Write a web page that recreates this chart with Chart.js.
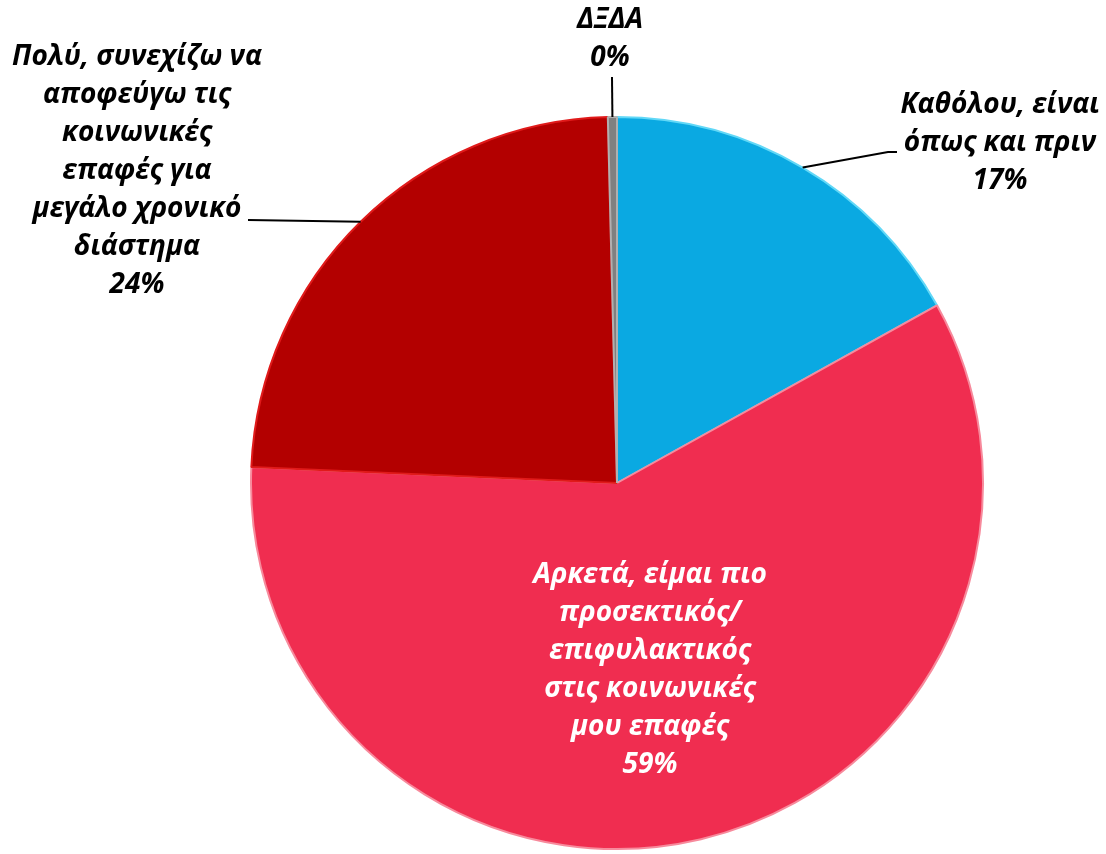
<!DOCTYPE html>
<html>
<head>
<meta charset="utf-8">
<script src="https://cdn.jsdelivr.net/npm/chart.js@4/dist/chart.umd.min.js"></script>
<style>
  html, body { margin: 0; padding: 0; background: #fff; }
  #wrap { width: 1106px; height: 854px; }
</style>
</head>
<body>
<div id="wrap"><canvas id="chart-pie" width="1106" height="854"></canvas></div>
<script>
// answers, clockwise from the top
const categories = [
    ["Καθόλου, είναι", "όπως και πριν"],
    ["Αρκετά, είμαι πιο", "προσεκτικός/", "επιφυλακτικός", "στις κοινωνικές", "μου επαφές"],
    ["Πολύ, συνεχίζω να", "αποφεύγω τις", "κοινωνικές", "επαφές για", "μεγάλο χρονικό", "διάστημα"],
    ["ΔΞΔΑ"],
];
const values = [17, 59, 24, 0.4];
const percentLabels = ["17%", "59%", "24%", "0%"];

const fills = ["#0aa9e2", "#f02d50", "#b30000", "#808080"];
const rims = ["#62d8f7", "#f78a9c", "#e01a1a", "#b0b0b0"];

const FONT = "italic bold 28px 'Open Sans'";
const LINE_H = 38;

// where each label block sits and how its leader bends (px)
const labelLayout = [
    { x: 1000, y: 105, color: "#000", leader: [[888, 152], [897, 152]] },
    { x: 650, y: 575, color: "#fff", leader: null },
    { x: 137, y: 57, color: "#000", leader: [[248, 220]] },
    { x: 610, y: 20, color: "#000", leader: [[612, 77]] },
];

const labelPlugin = {
    id: "pieLabels",
    afterDatasetsDraw(chart) {
        const ctx = chart.ctx;
        const arcs = chart.getDatasetMeta(0).data;
        ctx.save();
        ctx.font = FONT;
        ctx.textAlign = "center";
        ctx.textBaseline = "middle";
        arcs.forEach((arc, i) => {
            const lay = labelLayout[i];
            if (lay.leader) {
                const mid = (arc.startAngle + arc.endAngle) / 2;
                const sx = arc.x + Math.cos(mid) * arc.outerRadius;
                const sy = arc.y + Math.sin(mid) * arc.outerRadius;
                ctx.strokeStyle = "#000";
                ctx.lineWidth = 2;
                ctx.beginPath();
                ctx.moveTo(sx, sy);
                lay.leader.forEach(([px, py]) => ctx.lineTo(px, py));
                ctx.stroke();
            }
            const lines = categories[i].concat([percentLabels[i]]);
            ctx.fillStyle = lay.color;
            lines.forEach((t, k) => ctx.fillText(t, lay.x, lay.y + k * LINE_H));
        });
        ctx.restore();
    },
};

new Chart(document.getElementById("chart-pie").getContext("2d"), {
    type: "pie",
    data: {
        labels: categories.map((c) => c.join(" ")),
        datasets: [
            {
                data: values,
                backgroundColor: fills,
                borderColor: rims,
                borderWidth: 2,
            },
        ],
    },
    options: {
        responsive: false,
        animation: false,
        layout: { padding: { left: 250, right: 122, top: 116, bottom: 4 } },
        plugins: {
            legend: { display: false },
            tooltip: { enabled: false },
        },
    },
    plugins: [labelPlugin],
});
</script>
</body>
</html>
